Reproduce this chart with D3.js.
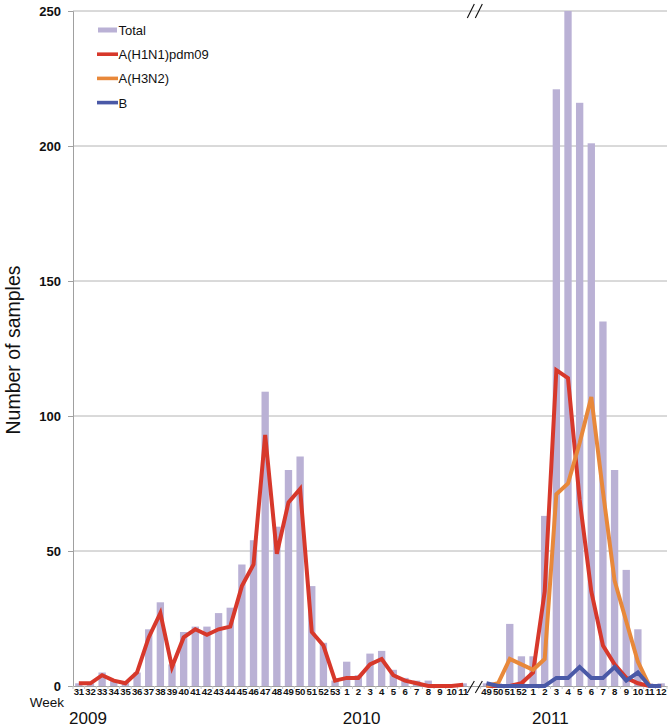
<!DOCTYPE html>
<html>
<head>
<meta charset="utf-8">
<script src="https://cdn.jsdelivr.net/npm/d3@7"></script>
<style>
  html, body { margin: 0; padding: 0; background: #fff; }
  svg { display: block; font-family: "Liberation Sans", Arial, sans-serif; }
</style>
</head>
<body>
<svg id="chart" width="671" height="727"></svg>
<script>
// ---- data ----
const weekLabels = [
  "31","32","33","34","35","36","37","38","39","40","41","42","43","44","45","46","47","48","49","50","51","52","53",
  "1","2","3","4","5","6","7","8","9","10","11",
  "",
  "49","50","51","52",
  "1","2","3","4","5","6","7","8","9","10","11","12"
];
const total = [
  1,1,5,2,1,5,21,31,8,20,22,22,27,29,45,54,109,59,80,85,37,16,2,
  9,4,12,13,6,3,2,2,0,0,1,
  null,
  1,1,23,11,
  11,63,221,250,216,201,135,80,43,21,1,1
];
const h1n1 = [
  1,1,4,2,1,5,18,27,7,18,21,19,21,22,37,45,93,49,68,73,20,15,2,
  3,3,8,10,4,2,1,0,0,0,0.5,
  null,
  0,0,0,1,
  5,35,117,114,69,35,15,8,3,1,0,0
];
const h3n2 = [
  null,null,null,null,null,null,null,null,null,null,null,null,null,null,null,null,null,null,null,null,null,null,null,
  null,null,null,null,null,null,null,null,null,null,null,
  null,
  0,1,10,8,
  6,10,71,75,90,107,72,39,24,9,0,0
];
const fluB = [
  null,null,null,null,null,null,null,null,null,null,null,null,null,null,null,null,null,null,null,null,null,null,null,
  null,null,null,null,null,null,null,null,null,null,null,
  null,
  1,0,0,0,
  0,0,3,3,7,3,3,7,2,5,0,0
];
const yTicks = [0, 50, 100, 150, 200, 250];
const yearLabels = [
  {text: "2009", at: 1.1},
  {text: "2010", at: 24.6},
  {text: "2011", at: 40.8}
];
const seriesNames = ["Total", "A(H1N1)pdm09", "A(H3N2)", "B"];
const colors = {bar: "#bab1d5", h1n1: "#d7382b", h3n2: "#e8883a", b: "#4a59a7"};

// ---- layout ----
const svg = d3.select("#chart");
const mLeft = 73, mRight = 667, mTop = 11, mBottom = 686;
const idx = d3.range(weekLabels.length);

const x = d3.scaleBand().domain(idx).range([mLeft, mRight]).paddingInner(0.37).paddingOuter(0.185);
const y = d3.scaleLinear().domain([0, 250]).range([mBottom, mTop]);

// gridlines
svg.append("g").selectAll("line").data(yTicks.filter(d => d > 0)).join("line")
  .attr("x1", mLeft).attr("x2", mRight)
  .attr("y1", d => y(d)).attr("y2", d => y(d))
  .attr("stroke", "#b4b4b4").attr("stroke-width", 1);

// bars
svg.append("g").selectAll("rect").data(idx.filter(i => total[i] != null)).join("rect")
  .attr("x", i => x(i)).attr("width", x.bandwidth())
  .attr("y", i => y(total[i])).attr("height", i => y(0) - y(total[i]))
  .attr("fill", colors.bar);

// y axis
const yAxis = svg.append("g").attr("transform", `translate(${mLeft},0)`)
  .call(d3.axisLeft(y).tickValues(yTicks).tickSize(5).tickPadding(7));
yAxis.select(".domain").attr("stroke", "#a0a0a0");
yAxis.selectAll(".tick line").attr("stroke", "#a0a0a0");
yAxis.selectAll(".tick text").attr("font-size", 13).attr("font-weight", "bold")
  .attr("fill", "#111").attr("font-family", "Liberation Sans, Arial, sans-serif");

// x axis
const xAxis = svg.append("g").attr("transform", `translate(0,${mBottom})`)
  .call(d3.axisBottom(x).tickFormat(i => weekLabels[i]).tickSize(0));
xAxis.select(".domain").attr("stroke", "#a0a0a0");
xAxis.selectAll(".tick text").attr("font-size", 9.6).attr("font-weight", "bold")
  .attr("fill", "#111").attr("dy", 0).attr("y", 8.8)
  .attr("letter-spacing", "-0.2")
  .attr("font-family", "Liberation Sans, Arial, sans-serif");
// category boundary ticks
svg.append("g").selectAll("line").data(d3.range(weekLabels.length + 1)).join("line")
  .attr("x1", i => mLeft + i * x.step()).attr("x2", i => mLeft + i * x.step())
  .attr("y1", mBottom).attr("y2", mBottom + 3)
  .attr("stroke", "#c8c8c8");

// lines
function drawLine(vals, color) {
  const line = d3.line()
    .defined(i => vals[i] != null)
    .x(i => x(i) + x.bandwidth() / 2)
    .y(i => y(vals[i]));
  svg.append("path").datum(idx).attr("d", line)
    .attr("fill", "none").attr("stroke", color).attr("stroke-width", 4)
    .attr("stroke-linejoin", "miter").attr("stroke-linecap", "butt");
}
drawLine(h1n1, colors.h1n1);
drawLine(h3n2, colors.h3n2);
drawLine(fluB, colors.b);

// axis break marks
const gapX = x(34) + x.bandwidth() / 2;
function breakMark(yc, h) {
  const g = svg.append("g");
  [-4, 4].forEach(off => {
    g.append("line")
      .attr("x1", gapX + off - 3.5).attr("y1", yc + h / 2)
      .attr("x2", gapX + off + 3.5).attr("y2", yc - h / 2)
      .attr("stroke", "#111").attr("stroke-width", 1.1);
  });
}
breakMark(y(250), 14);
breakMark(y(0) + 1, 12);

// labels
svg.append("text").attr("x", 64).attr("y", 707).attr("text-anchor", "end")
  .attr("font-size", 13.5).attr("fill", "#111").text("Week");
svg.append("g").selectAll("text").data(yearLabels).join("text")
  .attr("x", d => x(Math.floor(d.at)) + (d.at % 1) * x.step())
  .attr("y", 724).attr("text-anchor", "middle")
  .attr("font-size", 17).attr("fill", "#111").text(d => d.text);
svg.append("text")
  .attr("transform", "translate(20,350) rotate(-90)")
  .attr("text-anchor", "middle").attr("font-size", 19.5).attr("fill", "#111")
  .text("Number of samples");

// legend
const legend = svg.append("g");
const legendColors = [colors.bar, colors.h1n1, colors.h3n2, colors.b];
seriesNames.forEach((name, i) => {
  const yc = 30 + i * 24.2;
  if (i === 0) {
    legend.append("rect").attr("x", 98).attr("y", yc - 2.5).attr("width", 19).attr("height", 5)
      .attr("fill", legendColors[i]);
  } else {
    legend.append("line").attr("x1", 97).attr("x2", 118).attr("y1", yc).attr("y2", yc)
      .attr("stroke", legendColors[i]).attr("stroke-width", 3.6);
  }
  legend.append("text").attr("x", 118.5).attr("y", yc + 5)
    .attr("font-size", 13).attr("fill", "#111").text(name);
});
</script>
</body>
</html>
